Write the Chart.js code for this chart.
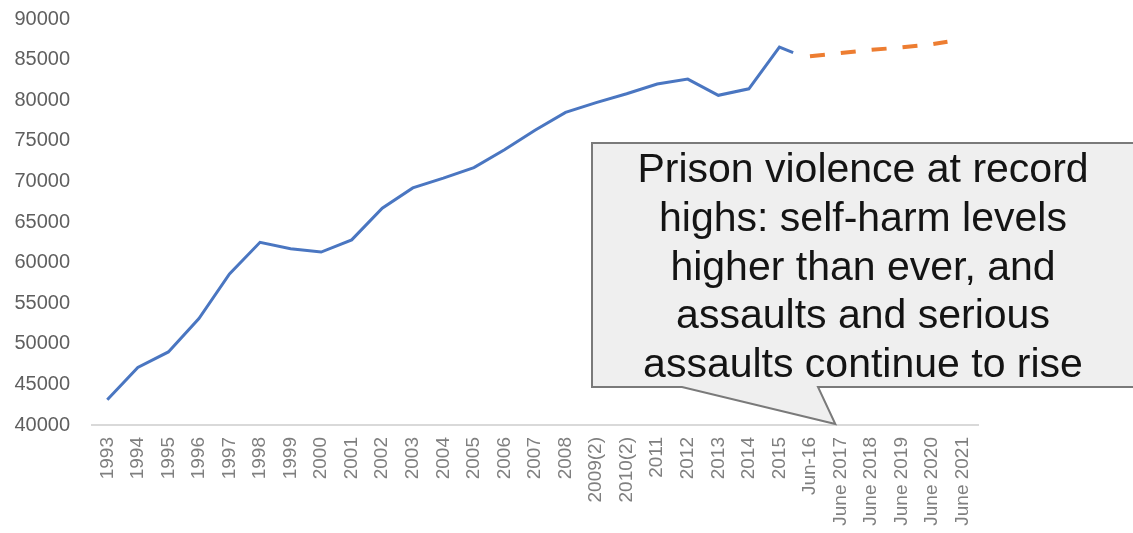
<!DOCTYPE html>
<html>
<head>
<meta charset="utf-8">
<script src="https://cdn.jsdelivr.net/npm/chart.js@4.4.1/dist/chart.umd.min.js"></script>
<style>
  html, body { margin: 0; padding: 0; background: #ffffff; }
  #wrap { width: 1133px; height: 533px; position: relative; }
</style>
</head>
<body>
<div id="wrap"><canvas id="c" width="1133" height="533"></canvas></div>
<script>
// ---- Data ----
const categories = ["1993","1994","1995","1996","1997","1998","1999","2000","2001","2002",
  "2003","2004","2005","2006","2007","2008","2009(2)","2010(2)","2011","2012","2013","2014",
  "2015","Jun-16","June 2017","June 2018","June 2019","June 2020","June 2021"];
const yTicks = [40000,45000,50000,55000,60000,65000,70000,75000,80000,85000,90000];

// Actual population, 1993 – 2015 (one per category)
const actualValues = [43100,47100,49000,53100,58600,62500,61700,61300,62800,66700,
  69200,70400,71700,73900,76300,78500,79700,80800,82000,82600,80600,81400,86550];
// Last reading of the actual series (position on the category axis, value)
const actualLastPos = 22.45;
const actualLastValue = 85850;

// Projection (dashed), position on category axis and value
const projectionPos = [23, 24, 25, 26, 27, 27.5];
const projectionValues = [85400, 85800, 86200, 86500, 86900, 87200];

const calloutLines = ["Prison violence at record", "highs: self-harm levels",
  "higher than ever, and", "assaults and serious", "assaults continue to rise"];

// ---- Build ----
const actualData = actualValues.map((v, i) => ({ x: i, y: v }));
actualData.push({ x: actualLastPos, y: actualLastValue });
const projectionData = projectionPos.map((p, i) => ({ x: p, y: projectionValues[i] }));

const calloutPlugin = {
  id: 'callout',
  afterDatasetsDraw(chart) {
    const ctx = chart.ctx;
    const xs = chart.scales.x, ys = chart.scales.y;
    const left = 592, top = 143, right = 1145, bottom = 387;
    const tipX = xs.getPixelForValue(23.83), tipY = ys.getPixelForValue(40000) - 1;
    ctx.save();
    ctx.beginPath();
    ctx.moveTo(left, top);
    ctx.lineTo(right, top);
    ctx.lineTo(right, bottom);
    ctx.lineTo(818, bottom);
    ctx.lineTo(tipX, tipY);
    ctx.lineTo(682, bottom);
    ctx.lineTo(left, bottom);
    ctx.closePath();
    ctx.fillStyle = '#efefef';
    ctx.fill();
    ctx.lineWidth = 2;
    ctx.strokeStyle = '#7a7a7a';
    ctx.stroke();
    ctx.fillStyle = '#141414';
    ctx.font = '41px "Liberation Sans", Arial, sans-serif';
    ctx.textAlign = 'center';
    ctx.textBaseline = 'middle';
    const cx = 863;
    calloutLines.forEach((t, i) => ctx.fillText(t, cx, 171 + i * 48.7));
    ctx.restore();
  }
};

new Chart(document.getElementById('c'), {
  type: 'line',
  data: {
    datasets: [
      { data: actualData, borderColor: '#4a76c1', borderWidth: 3, pointRadius: 0, tension: 0, fill: false },
      { data: projectionData, borderColor: '#ed7d31', borderWidth: 4, borderDash: [15, 16], borderCapStyle: 'butt', pointRadius: 0, tension: 0, fill: false }
    ]
  },
  options: {
    responsive: false,
    animation: false,
    devicePixelRatio: 1,
    layout: { padding: { top: 19, right: 155, bottom: 0, left: 0 } },
    plugins: { legend: { display: false }, tooltip: { enabled: false } },
    scales: {
      x: {
        type: 'linear',
        min: -0.5,
        max: categories.length - 0.5,
        afterBuildTicks: (s) => { s.ticks = categories.map((_, i) => ({ value: i })); },
        afterFit: (s) => { s.height = 108; s.paddingLeft = 0; s.paddingRight = 0; s.paddingTop = 0; s.paddingBottom = 0; },
        grid: { display: false, drawTicks: false },
        border: { display: true, color: '#d9d9d9', width: 2 },
        ticks: {
          autoSkip: false,
          minRotation: 90,
          maxRotation: 90,
          padding: 12,
          color: '#7f7f7f',
          font: { family: '"Liberation Sans", Arial, sans-serif', size: 19 },
          callback: (v) => categories[v] ?? ''
        }
      },
      y: {
        min: 40000,
        max: 90000,
        afterBuildTicks: (s) => { s.ticks = yTicks.map(v => ({ value: v })); },
        afterFit: (s) => { s.width = 92; s.paddingTop = 0; s.paddingBottom = 0; s.paddingLeft = 0; s.paddingRight = 0; },
        grid: { display: false, drawTicks: false },
        border: { display: false },
        ticks: {
          padding: 22,
          color: '#5f5f5f',
          font: { family: '"Liberation Sans", Arial, sans-serif', size: 20 },
          callback: (v) => String(v)
        }
      }
    }
  },
  plugins: [calloutPlugin]
});
</script>
</body>
</html>
